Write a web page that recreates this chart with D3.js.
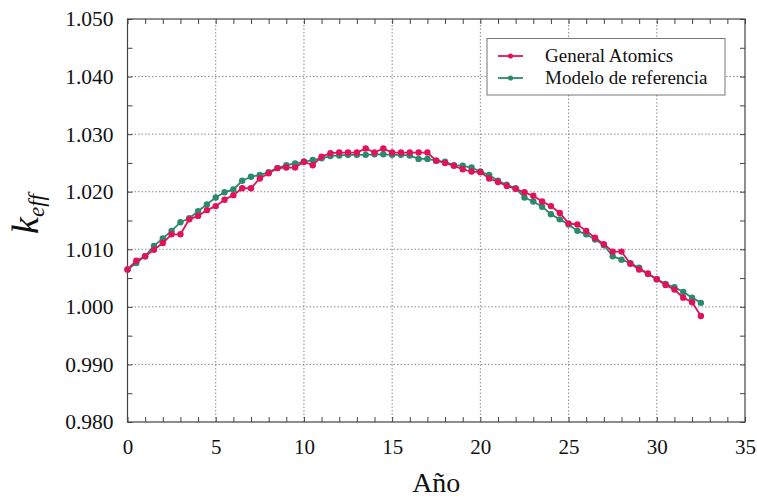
<!DOCTYPE html>
<html><head><meta charset="utf-8">
<script src="https://cdn.jsdelivr.net/npm/d3@7"></script>
<style>body{margin:0;background:#fff;} svg{display:block;}</style>
</head><body>
<script>
const years = [0,0.5,1,1.5,2,2.5,3,3.5,4,4.5,5,5.5,6,6.5,7,7.5,8,8.5,9,9.5,10,10.5,11,11.5,12,12.5,13,13.5,14,14.5,15,15.5,16,16.5,17,17.5,18,18.5,19,19.5,20,20.5,21,21.5,22,22.5,23,23.5,24,24.5,25,25.5,26,26.5,27,27.5,28,28.5,29,29.5,30,30.5,31,31.5,32,32.5];
const generalAtomics = [
 1.0065,1.0080,1.0088,1.0099,1.0111,1.0126,1.0126,1.0152,1.0158,1.0168,
 1.0175,1.0186,1.0194,1.0206,1.0206,1.0223,1.0232,1.0241,1.0242,1.0242,
 1.0252,1.0246,1.0261,1.0267,1.0268,1.0268,1.0268,1.0275,1.0268,1.0275,
 1.0268,1.0268,1.0268,1.0268,1.0268,1.0254,1.0250,1.0245,1.0239,1.0235,
 1.0234,1.0223,1.0217,1.0210,1.0205,1.0199,1.0193,1.0183,1.0175,1.0163,
 1.0145,1.0143,1.0132,1.0120,1.0109,1.0096,1.0096,1.0075,1.0065,1.0058,
 1.0048,1.0038,1.0030,1.0016,1.0008,0.9984];
const modeloReferencia = [
 1.0065,1.0076,1.0088,1.0106,1.0119,1.0132,1.0147,1.0154,1.0166,1.0178,
 1.0190,1.0199,1.0204,1.0219,1.0226,1.0229,1.0234,1.0241,1.0246,1.0249,
 1.0252,1.0255,1.0258,1.0262,1.0263,1.0264,1.0264,1.0264,1.0265,1.0265,
 1.0264,1.0264,1.0263,1.0257,1.0257,1.0254,1.0252,1.0246,1.0245,1.0242,
 1.0235,1.0229,1.0219,1.0212,1.0206,1.0190,1.0183,1.0174,1.0161,1.0152,
 1.0143,1.0132,1.0126,1.0117,1.0107,1.0088,1.0082,1.0076,1.0068,1.0057,
 1.0048,1.0040,1.0034,1.0026,1.0016,1.0007];
const seriesNames = ["General Atomics","Modelo de referencia"];
const seriesColors = ["#e0125c","#2b8a6b"];
const xTicks = [0,5,10,15,20,25,30,35];
const xMinorTicks = [0,1,2,3,4,5,6,7,8,9,10,11,12,13,14,15,16,17,18,19,20,21,22,23,24,25,26,27,28,29,30,31,32,33,34,35];
const yTicks = [0.980,0.990,1.000,1.010,1.020,1.030,1.040,1.050];
const yMinorTicks = [0.985,0.995,1.005,1.015,1.025,1.035,1.045];
const xLabel = "Año";

const W = 757, H = 499;
const m = {left:127.5, right:12, top:19, bottom:77};
const svg = d3.select("body").append("svg").attr("width",W).attr("height",H);
const x = d3.scaleLinear().domain([0,35]).range([m.left, W-m.right]);
const y = d3.scaleLinear().domain([0.980,1.050]).range([H-m.bottom, m.top]);
const font = "'Liberation Serif','Times New Roman',serif";

// grid
const grid = svg.append("g").attr("stroke","#8a8a8a").attr("stroke-width",1).attr("stroke-dasharray","1.5,2");
grid.selectAll("line.gx").data(xTicks.slice(1,-1)).enter().append("line")
  .attr("x1",d=>x(d)).attr("x2",d=>x(d)).attr("y1",y(0.980)).attr("y2",y(1.050));
grid.selectAll("line.gy").data(yTicks.slice(1,-1)).enter().append("line")
  .attr("y1",d=>y(d)).attr("y2",d=>y(d)).attr("x1",x(0)).attr("x2",x(35));

// axes with inward ticks (mirrored)
const axB = d3.axisBottom(x).tickValues(xMinorTicks).tickSize(-5).tickFormat("");
const axT = d3.axisTop(x).tickValues(xMinorTicks).tickSize(-5).tickFormat("");
const axL = d3.axisLeft(y).tickValues(yTicks.concat(yMinorTicks)).tickSize(-5).tickFormat("");
const axR = d3.axisRight(y).tickValues(yTicks.concat(yMinorTicks)).tickSize(-5).tickFormat("");
function styleAxis(g){ g.select(".domain").remove(); g.selectAll(".tick line").attr("stroke","#444").attr("stroke-width",1); }
svg.append("g").attr("transform",`translate(0,${y(0.980)})`).call(axB).call(styleAxis);
svg.append("g").attr("transform",`translate(0,${y(1.050)})`).call(axT).call(styleAxis);
svg.append("g").attr("transform",`translate(${x(0)},0)`).call(axL).call(styleAxis);
svg.append("g").attr("transform",`translate(${x(35)},0)`).call(axR).call(styleAxis);

// tick labels
const xl = d3.axisBottom(x).tickValues(xTicks).tickSize(0).tickPadding(17).tickFormat(d3.format("d"));
svg.append("g").attr("transform",`translate(0,${y(0.980)})`).call(xl)
  .call(g=>{g.select(".domain").remove(); g.selectAll("text").attr("font-family",font).attr("font-size",21).attr("fill","#111");});
const yl = d3.axisLeft(y).tickValues(yTicks).tickSize(0).tickPadding(14).tickFormat(d3.format(".3f"));
svg.append("g").attr("transform",`translate(${x(0)},0)`).call(yl)
  .call(g=>{g.select(".domain").remove(); g.selectAll("text").attr("font-family",font).attr("font-size",21.5).attr("fill","#111");});

// frame
svg.append("rect").attr("x",x(0)).attr("y",y(1.050)).attr("width",x(35)-x(0)).attr("height",y(0.980)-y(1.050))
  .attr("fill","none").attr("stroke","#444").attr("stroke-width",1.2);

// series
const allSeries = [generalAtomics, modeloReferencia];
const line = d3.line().x((d,i)=>x(years[i])).y(d=>y(d));
const order = [1,0];
order.forEach(si=>{
  const g = svg.append("g");
  g.append("path").datum(allSeries[si]).attr("d",line).attr("fill","none")
    .attr("stroke",seriesColors[si]).attr("stroke-width",1.8);
  g.selectAll("circle").data(allSeries[si]).enter().append("circle")
    .attr("cx",(d,i)=>x(years[i])).attr("cy",d=>y(d)).attr("r",3.2).attr("fill",seriesColors[si]);
});

// legend
const lg = svg.append("g");
lg.append("rect").attr("x",487).attr("y",38.5).attr("width",238).attr("height",56.5)
  .attr("fill","#fff").attr("stroke","#777").attr("stroke-width",1);
seriesNames.forEach((n,i)=>{
  const ly = 56 + i*22;
  lg.append("line").attr("x1",498).attr("x2",523).attr("y1",ly).attr("y2",ly)
    .attr("stroke",seriesColors[i]).attr("stroke-width",1.8);
  lg.append("circle").attr("cx",510.5).attr("cy",ly).attr("r",2.6).attr("fill",seriesColors[i]);
  lg.append("text").attr("x",545).attr("y",ly+6).attr("font-family",font).attr("font-size",19)
    .attr("fill","#111").text(n);
});

// axis titles
svg.append("text").attr("x",(x(0)+x(35))/2).attr("y",492).attr("text-anchor","middle")
  .attr("font-family",font).attr("font-size",28).attr("fill","#111").text(xLabel);
const yt = svg.append("text").attr("transform",`translate(38,${214}) rotate(-90)`).attr("text-anchor","middle")
  .attr("font-family",font).attr("font-style","italic").attr("fill","#111");
yt.append("tspan").attr("font-size",38).text("k");
yt.append("tspan").attr("font-size",23).attr("dy",6).text("eff");
</script>
</body></html>
